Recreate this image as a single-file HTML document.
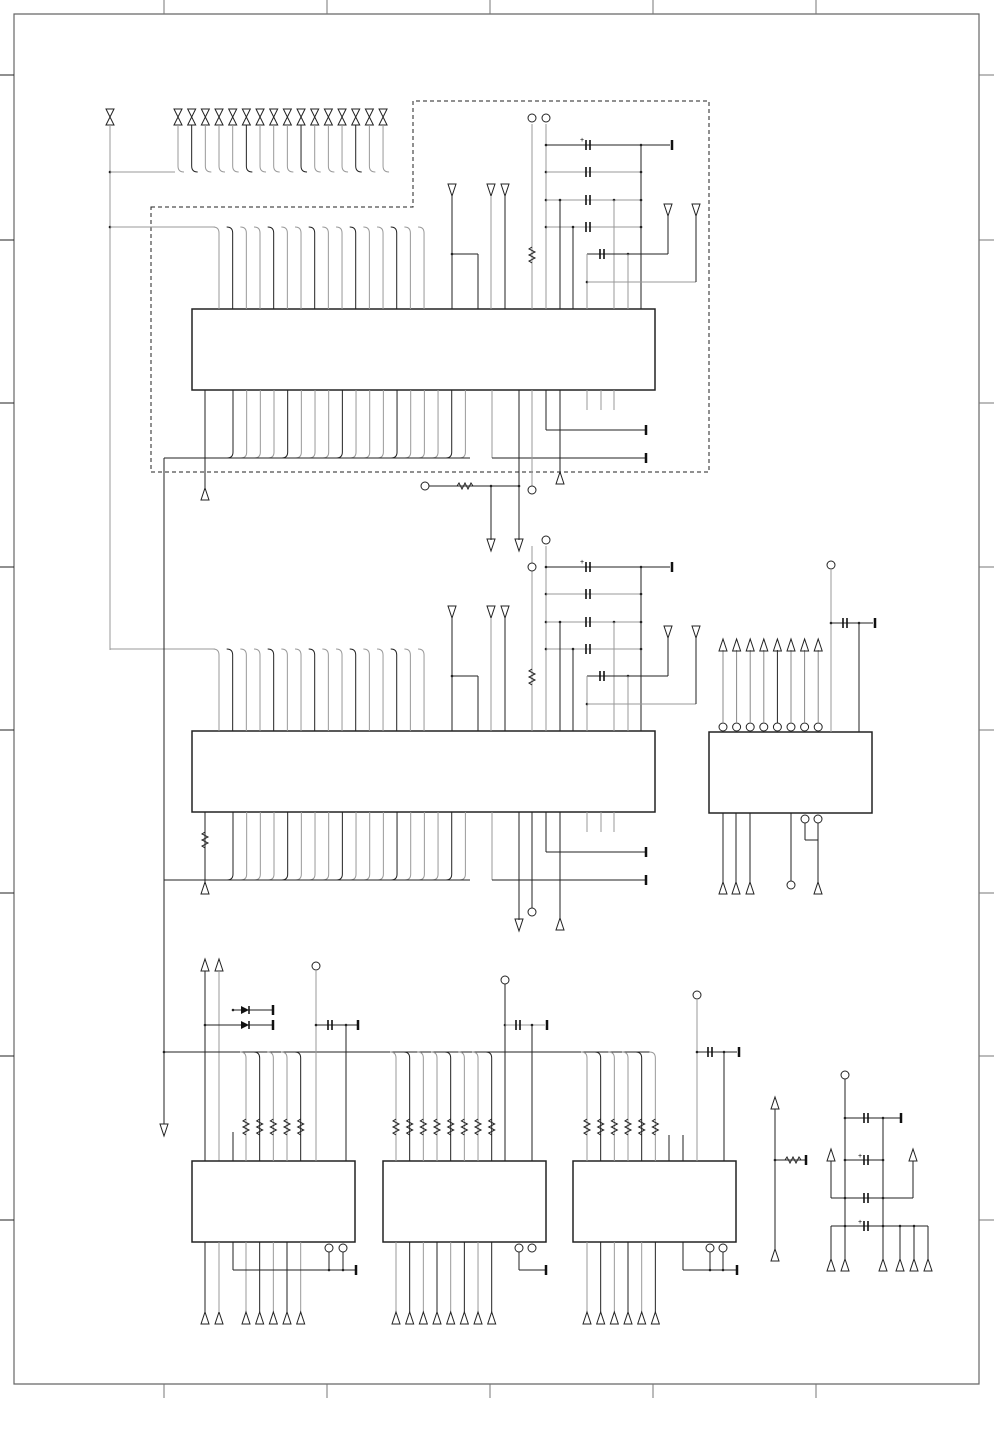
<!DOCTYPE html>
<html><head><meta charset="utf-8"><style>
html,body{margin:0;padding:0;background:#fff}
svg{display:block}
</style></head><body>
<svg id="s" width="994" height="1450" viewBox="0 0 994 1450" xmlns="http://www.w3.org/2000/svg"></svg>
<script>
var s=document.getElementById('s'),o='';
function L(x1,y1,x2,y2,c,w){o+='<line x1="'+x1+'" y1="'+y1+'" x2="'+x2+'" y2="'+y2+'" stroke="'+(c||'#222')+'" stroke-width="'+(w||1)+'"/>';}
function P(d,c,w,da){o+='<path d="'+d+'" fill="none" stroke="'+(c||'#222')+'" stroke-width="'+(w||1)+'"'+(da?' stroke-dasharray="'+da+'"':'')+'/>';}
function R(x,y,w,h){o+='<rect x="'+x+'" y="'+y+'" width="'+w+'" height="'+h+'" fill="#fff" stroke="#222" stroke-width="1.5"/>';}
function C(x,y,r){o+='<circle cx="'+x+'" cy="'+y+'" r="'+(r||4)+'" fill="#fff" stroke="#222"/>';}
function D(x,y){o+='<circle cx="'+x+'" cy="'+y+'" r="1.3" fill="#222"/>';}
function TD(x,y){P('M'+(x-4)+' '+(y-6)+'L'+(x+4)+' '+(y-6)+'L'+x+' '+(y+6)+'Z');}
function TU(x,y){P('M'+(x-4)+' '+(y+6)+'L'+(x+4)+' '+(y+6)+'L'+x+' '+(y-6)+'Z');}
function BI(x,y){P('M'+(x-4)+' '+(y-8)+'L'+(x+4)+' '+(y-8)+'L'+(x-4)+' '+(y+8)+'L'+(x+4)+' '+(y+8)+'Z');}
function G(x,y){L(x,y-5,x,y+5,'#111',2.5);}
function CAP(x,y){L(x-2,y-5,x-2,y+5,'#111',1.6);L(x+2,y-5,x+2,y+5,'#111',1.6);}
function RH(x,y){P('M'+(x-8)+' '+y+'l2 -3l3 6l3 -6l3 6l3 -6l2 3');}
function RV(x,y){P('M'+x+' '+(y-8)+'l-3 2l6 3l-6 3l6 3l-6 3l3 2');}
P('M14 14H979V1384H14Z','#666',1.2);
[164,327,490,653,816].forEach(function(x){L(x,0,x,14,'#777');L(x,1384,x,1398,'#777');});
[75,240,403,567,730,893,1056,1220].forEach(function(y){L(0,y,14,y,'#222');L(979,y,994,y,'#777');});
P('M151 207H413V101H709V472H151Z','#222',1,'4,3');
BI(110,117);L(110,125,110,650,'#999');D(110,172);D(110,227);
L(110,172,175,172,'#999');
for(var i=0;i<16;i++){var x=178+i*13.67;BI(x,117);P('M'+x+' 125V166q0 6 6 6','#'+(i%4==1?'222':'999'));}
function chip(dy){
 R(192,309+dy,463,81);
 for(var i=0;i<16;i++){var x=219+i*13.67;P('M'+(x-6)+' '+(227+dy)+'q6 0 6 6V'+(309+dy),(i%3==1?'#222':'#999'));}
 L(110,227+dy,215,227+dy,'#999');
 for(var i=0;i<18;i++){var x=233+i*13.67;P('M'+x+' '+(390+dy)+'V'+(452+dy)+'q0 6 -6 6',(i%4==0?'#222':'#999'));}
 L(164,458+dy,470,458+dy);
 TD(452,190+dy);L(452,196+dy,452,309+dy);D(452,254+dy);L(452,254+dy,478,254+dy);L(478,254+dy,478,309+dy);
 TD(491,190+dy);L(491,196+dy,491,309+dy,'#999');TD(505,190+dy);L(505,196+dy,505,309+dy);
 L(532,124+dy,532,309+dy,'#999');RV(532,255+dy);L(546,124+dy,546,309+dy,'#999');
 [145,172,200,227].forEach(function(y,k){D(546,y+dy);L(546,y+dy,641,y+dy,k==0?'#222':'#999');CAP(588,y+dy);D(641,y+dy);});
 L(641,145+dy,641,309+dy);L(641,145+dy,670,145+dy);G(672,145+dy);
 D(560,200+dy);L(560,200+dy,560,309+dy);D(573,227+dy);L(573,227+dy,573,309+dy);D(614,200+dy);L(614,200+dy,614,309+dy,'#999');
 L(587,254+dy,668,254+dy);CAP(602,254+dy);D(628,254+dy);L(628,254+dy,628,309+dy,'#999');TD(668,210+dy);L(668,216+dy,668,254+dy);
 L(587,254+dy,587,309+dy,'#999');D(587,282+dy);L(587,282+dy,696,282+dy,'#999');TD(696,210+dy);L(696,216+dy,696,282+dy);
 L(492,390+dy,492,458+dy,'#999');L(492,458+dy,645,458+dy);G(646,458+dy);
 L(546,390+dy,546,430+dy);L(546,430+dy,645,430+dy);G(646,430+dy);
 [587,601,614].forEach(function(x){L(x,390+dy,x,410+dy,'#999');});
}
chip(0);chip(422);
C(532,118);C(546,118);C(532,567);C(546,540);
o+='<text x="580" y="142" font-family="Liberation Sans" font-size="7">+</text><text x="580" y="564" font-family="Liberation Sans" font-size="7">+</text>';
L(205,390,205,490);TU(205,494);
L(519,390,519,540);TD(519,545);L(532,390,532,486,'#999');C(532,490);L(560,390,560,474);TU(560,478);
C(425,486);L(429,486,520,486);RH(465,486);D(491,486);D(519,486);L(491,486,491,540);TD(491,545);
L(164,458,164,1124);TD(164,1130);
L(205,812,205,884);RV(205,840);TU(205,888);L(164,880,205,880);
L(519,812,519,920);TD(519,925);L(532,812,532,908);C(532,912);L(560,812,560,918);TU(560,924);
R(709,732,163,81);
for(var i=0;i<8;i++){var x=723+i*13.6;C(x,727);L(x,650,x,723,i==4?'#222':'#888');TU(x,645);}
C(831,565);L(831,569,831,732,'#999');D(831,623);L(831,623,873,623);CAP(845,623);D(859,623);L(859,623,859,732);G(875,623);
[723,736,750].forEach(function(x){L(x,813,x,882);TU(x,888);});
L(791,813,791,881);C(791,885);C(805,819);C(818,819);L(805,823,805,840);L(805,840,818,840);L(818,823,818,882);TU(818,888);
TU(205,965);TU(219,965);L(205,971,205,1161);L(219,971,219,1161,'#999');
[[233,1010],[205,1025]].forEach(function(a){D(a[0],a[1]);L(a[0],a[1],272,a[1]);o+='<path d="M241 '+(a[1]-4)+'L241 '+(a[1]+4)+'L249 '+a[1]+'Z" fill="#111"/>';L(249,a[1]-4,249,a[1]+4,'#111',1.5);G(273,a[1]);});
L(164,1052,650,1052);D(164,1052);
function bchip(x0,pins,pstart){
 R(x0,1161,163,81);
 for(var i=0;i<pins;i++){var x=pstart+i*13.67;P('M'+(x-6)+' 1052q6 0 6 6V1161',i%3==1?'#222':'#999');RV(x,1127);
  L(x,1242,x,1312,i%2?'#222':'#999');TU(x,1318);}
}
bchip(192,5,246);bchip(383,8,396);bchip(573,6,587);
TU(205,1318);TU(219,1318);L(205,1242,205,1312);L(219,1242,219,1312,'#999');
L(233,1132,233,1161);L(233,1242,233,1270);L(233,1270,355,1270);D(329,1270);D(343,1270);G(356,1270);C(329,1248);C(343,1248);L(329,1252,329,1270);L(343,1252,343,1270);
C(316,966);L(316,970,316,1161,'#999');D(316,1025);L(316,1025,357,1025);CAP(330,1025);D(346,1025);L(346,1025,346,1161);G(358,1025);
C(505,980);L(505,984,505,1161);D(505,1025);L(505,1025,545,1025,'#999');CAP(518,1025);D(532,1025);L(532,1025,532,1161);G(547,1025);
C(519,1248);C(532,1248);L(519,1252,519,1270);L(519,1270,545,1270);G(546,1270);
C(697,995);L(697,999,697,1161,'#999');D(697,1052);L(697,1052,737,1052);CAP(710,1052);D(724,1052);L(724,1052,724,1161);G(739,1052);
L(669,1135,669,1161);L(683,1135,683,1161);L(683,1242,683,1270);L(683,1270,736,1270);D(710,1270);D(723,1270);G(737,1270);C(710,1248);C(723,1248);L(710,1252,710,1270);L(723,1252,723,1270);
TU(775,1103);L(775,1109,775,1249);TU(775,1255);D(775,1160);L(775,1160,805,1160);RH(793,1160);G(806,1160);
C(845,1075);L(845,1079,845,1259);D(845,1118);L(845,1118,900,1118);CAP(866,1118);D(883,1118);G(901,1118);
L(883,1118,883,1259);D(845,1160);L(845,1160,883,1160);CAP(866,1160);D(883,1160);
TU(831,1155);TU(913,1155);L(831,1161,831,1198);L(913,1161,913,1198);L(831,1198,913,1198);CAP(866,1198);D(845,1198);D(883,1198);
L(831,1226,928,1226);CAP(866,1226);D(845,1226);D(883,1226);D(900,1226);D(914,1226);
o+='<text x="858" y="1158" font-family="Liberation Sans" font-size="7">+</text><text x="858" y="1224" font-family="Liberation Sans" font-size="7">+</text>';
[831,845,883,900,914,928].forEach(function(x){L(x,1226,x,1259);TU(x,1265);});
s.innerHTML=o;
</script>
</body></html>
